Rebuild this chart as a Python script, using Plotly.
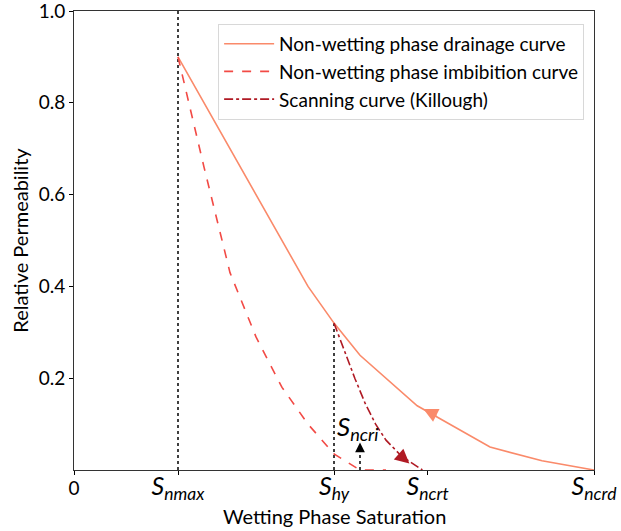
import plotly.graph_objects as go

# ---- data ----
# characteristic saturations (x axis, wetting phase saturation, normalised)
S_nmax = 0.2
S_hy = 0.5
S_ncri = 0.55
S_ncrt = 0.68
S_ncrd = 1.0

# non-wetting phase drainage curve
drain_x = [0.2, 0.45, 0.5, 0.55, 0.66, 0.8, 0.9, 1.0]
drain_y = [0.9, 0.40, 0.32, 0.25, 0.14, 0.05, 0.02, 0.0]

# non-wetting phase imbibition curve
imb_x = [0.2, 0.25, 0.3, 0.35, 0.4, 0.45, 0.5, 0.55, 0.6]
imb_y = [0.9, 0.66, 0.43, 0.29, 0.18, 0.10, 0.035, 0.0, 0.0]

# scanning curve (Killough)
scan_x = [0.5, 0.52, 0.54, 0.56, 0.58, 0.60, 0.63, 0.67]
scan_y = [0.32, 0.26, 0.20, 0.145, 0.10, 0.065, 0.03, 0.0]

# y ticks
y_ticks = [0.2, 0.4, 0.6, 0.8, 1.0]
y_ticklabels = ["0.2", "0.4", "0.6", "0.8", "1.0"]

# x ticks
x_ticks = [0, S_nmax, S_hy, S_ncrt, S_ncrd]
x_names = ["nmax", "hy", "ncrt", "ncrd"]

# arrow positions along curves (tail -> tip)
drain_arrow = ((0.70, 0.117), (0.672, 0.133))
scan_arrow = ((0.625, 0.034), (0.645, 0.014))
ncri_arrow = ((S_ncri, 0.045), (S_ncri, 0.060))
ncri_text_pos = (0.547, 0.092)
hy_kr = 0.32

FONT = "Lato, Carlito, Calibri, sans-serif"

c_drain = "#FA8A6A"
c_imb = "#F24A45"
c_scan = "#B01A24"

fig = go.Figure()
fig.add_trace(go.Scatter(x=drain_x, y=drain_y, mode="lines",
                         line=dict(color=c_drain, width=1.6),
                         name="Non-wetting phase drainage curve"))
fig.add_trace(go.Scatter(x=imb_x, y=imb_y, mode="lines",
                         line=dict(color=c_imb, width=1.6, dash="dash"),
                         name="Non-wetting phase imbibition curve"))
fig.add_trace(go.Scatter(x=scan_x, y=scan_y, mode="lines",
                         line=dict(color=c_scan, width=1.6, dash="dashdot"),
                         name="Scanning curve (Killough)"))

# vertical dotted guide lines
fig.add_shape(type="line", x0=S_nmax, x1=S_nmax, y0=0, y1=1.0,
              line=dict(color="black", width=1.5, dash="dot"), layer="below")
fig.add_shape(type="line", x0=S_hy, x1=S_hy, y0=0, y1=hy_kr,
              line=dict(color="black", width=1.5, dash="dot"), layer="below")
fig.add_shape(type="line", x0=S_ncri, x1=S_ncri, y0=0, y1=ncri_arrow[0][1],
              line=dict(color="black", width=1.5, dash="dot"))

def arrow(tail, tip, color, size=1.4, width=1.6):
    fig.add_annotation(x=tip[0], y=tip[1], ax=tail[0], ay=tail[1],
                       xref="x", yref="y", axref="x", ayref="y",
                       showarrow=True, arrowhead=2, arrowsize=size,
                       arrowwidth=width, arrowcolor=color, text="")

arrow(drain_arrow[0], drain_arrow[1], c_drain, size=1.8)
arrow(scan_arrow[0], scan_arrow[1], c_scan, size=1.8)
arrow(ncri_arrow[0], ncri_arrow[1], "black", size=1.3, width=1.5)

fig.add_annotation(x=ncri_text_pos[0], y=ncri_text_pos[1], xref="x", yref="y",
                   text="<i>S<sub>ncri</sub></i>", showarrow=False,
                   font=dict(family=FONT, size=26, color="black"))

# x axis title placed as paper text
fig.add_annotation(x=0.5, y=-0.101, xref="paper", yref="paper",
                   xanchor="center", yanchor="middle", showarrow=False,
                   text="Wetting Phase Saturation",
                   font=dict(family=FONT, size=20, color="black"))

ticktext = ["<span style='font-size:19px'>0</span>"] + \
    ["<i>S<sub>%s</sub></i>" % n for n in x_names]

fig.update_layout(
    width=621, height=531,
    margin=dict(l=74, r=27, t=11, b=61),
    paper_bgcolor="white", plot_bgcolor="white",
    font=dict(family=FONT, size=19, color="black"),
    showlegend=True,
    legend=dict(x=0.981, y=0.972, xanchor="right", yanchor="top",
                bgcolor="white", bordercolor="#d8d8d8", borderwidth=1,
                font=dict(family=FONT, size=19),
                tracegroupgap=0, itemwidth=50),
    xaxis=dict(range=[0, 1], tickmode="array", tickvals=x_ticks,
               ticktext=ticktext, tickfont=dict(size=25, family=FONT),
               ticks="outside", ticklen=4, tickcolor="black",
               ticklabelstandoff=-10, ticklabeloverflow="allow",
               showline=True, linecolor="#333", linewidth=1, mirror=True,
               showgrid=False, zeroline=False, automargin=False),
    yaxis=dict(range=[0, 1], tickmode="array", tickvals=y_ticks,
               ticktext=y_ticklabels, tickfont=dict(size=19, family=FONT),
               ticks="outside", ticklen=4, tickcolor="black",
               ticklabeloverflow="allow",
               showline=True, linecolor="#333", linewidth=1, mirror=True,
               showgrid=False, zeroline=False, automargin=False,
               title=dict(text="Relative Permeability",
                          font=dict(size=20, family=FONT), standoff=4)),
)

fig.write_html("out.html")
